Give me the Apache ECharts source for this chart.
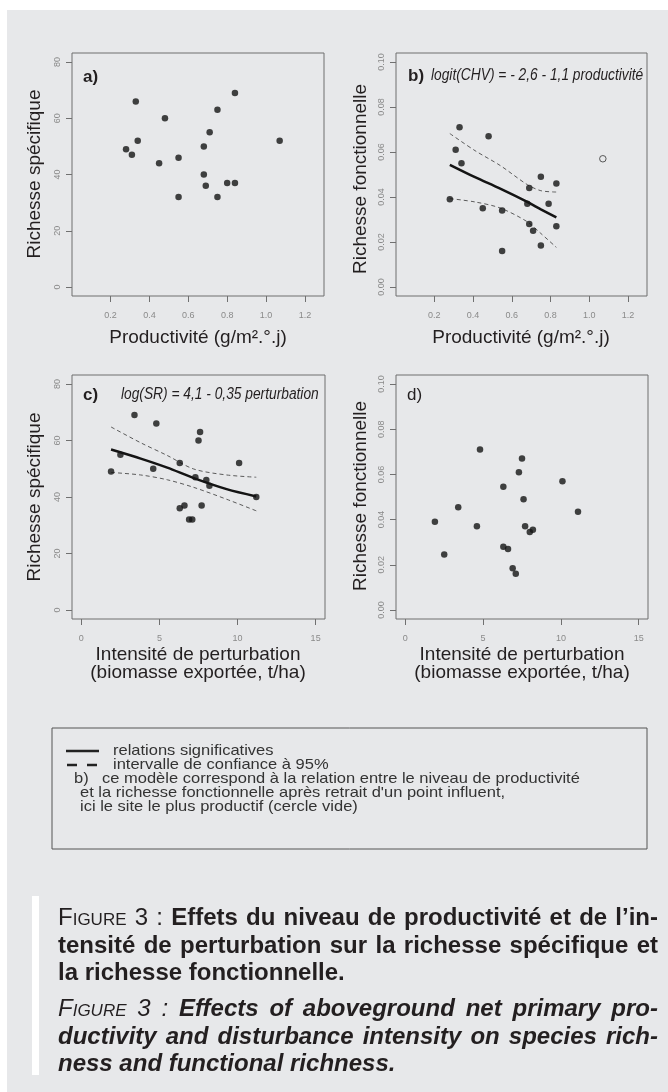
<!DOCTYPE html>
<html>
  <head>
    <meta charset="utf-8" />
    <title>Figure 3 - productivité, perturbation et richesse</title>
    <script src="https://cdn.jsdelivr.net/npm/echarts@6/dist/echarts.min.js"></script>
  </head>
  <body>
    <style>
      html,
      body {
        width: 668px;
        height: 1092px;
        margin: 0;
        padding: 0;
        background: #ffffff;
        overflow: hidden;
      }
      .sheet {
        position: absolute;
        left: 7px;
        top: 10px;
        right: 0;
        bottom: 0;
        background: #e7e8ea;
      }
      #main {
        position: absolute;
        left: 0;
        top: 0;
        width: 668px;
        height: 1092px;
      }
      .bar {
        position: absolute;
        left: 32px;
        top: 896px;
        width: 7px;
        height: 179px;
        background: #ffffff;
      }
      .caption {
        position: absolute;
        left: 58px;
        width: 600px;
        font-family: "Liberation Sans", Arial, sans-serif;
        font-size: 24px;
        line-height: 27.5px;
        color: #231f20;
      }
      .caption .j {
        text-align: justify;
        text-align-last: justify;
      }
      .caption .sc {
        font-variant: small-caps;
      }
    </style>
    <div class="sheet"></div>
    <div id="main"></div>
    <div class="bar"></div>
    <div class="caption" style="top: 903px;">
      <div class="j"><span class="sc">Figure</span> 3 : <b>Effets du niveau de productivité et de l’in-</b></div>
      <div class="j"><b>tensité de perturbation sur la richesse spécifique et</b></div>
      <div><b>la richesse fonctionnelle.</b></div>
    </div>
    <div class="caption" style="top: 994px; font-style: italic;">
      <div class="j"><span class="sc">Figure</span> 3 : <b>Effects of aboveground net primary pro-</b></div>
      <div class="j"><b>ductivity and disturbance intensity on species rich-</b></div>
      <div><b>ness and functional richness.</b></div>
    </div>
    <script type="text/javascript">

      // a) productivité / richesse spécifique
      var prodA = [0.28, 0.31, 0.33, 0.34, 0.45, 0.48, 0.55, 0.55, 0.68, 0.68, 0.69, 0.71, 0.75, 0.75, 0.80, 0.84, 0.84, 1.07];
      var srA = [49, 47, 66, 52, 44, 60, 32, 46, 50, 40, 36, 55, 32, 63, 37, 37, 69, 52];

      // b) productivité / richesse fonctionnelle, le site le plus productif à part (cercle vide)
      var prodB = [0.28, 0.31, 0.33, 0.34, 0.45, 0.48, 0.55, 0.55, 0.68, 0.69, 0.69, 0.71, 0.75, 0.75, 0.79, 0.83, 0.83];
      var frB = [0.039, 0.061, 0.071, 0.055, 0.035, 0.067, 0.016, 0.034, 0.037, 0.044, 0.028, 0.025, 0.0185, 0.049, 0.037, 0.027, 0.046];
      var prodOut = [1.07];
      var frOut = [0.057];
      var fitProdB = [0.28, 0.41, 0.54, 0.68, 0.75, 0.83];
      var fitB = [0.0543, 0.0488, 0.0437, 0.0378, 0.0345, 0.0309];
      var upB = [0.0682, 0.0606, 0.0540, 0.0455, 0.0428, 0.0422];
      var loB = [0.0393, 0.0378, 0.0351, 0.0290, 0.0238, 0.0176];

      // c) perturbation / richesse spécifique
      var pertC = [1.9, 2.5, 3.4, 4.8, 4.6, 6.3, 6.3, 6.6, 6.9, 7.1, 7.5, 7.6, 7.3, 7.7, 8.0, 8.2, 10.1, 11.2];
      var srC = [49, 55, 69, 66, 50, 52, 36, 37, 32, 32, 60, 63, 47, 37, 46, 44, 52, 40];
      var fitPertC = [1.9, 3.8, 5.5, 7.2, 9.3, 11.2];
      var fitC = [56.8, 53.6, 50.4, 46.7, 42.8, 40.2];
      var upC = [64.8, 59.2, 54.7, 49.9, 47.8, 47.0];
      var loC = [48.7, 47.8, 46.1, 43.4, 39.2, 35.1];

      // d) perturbation / richesse fonctionnelle
      var pertD = [1.9, 2.5, 3.4, 4.6, 4.8, 6.3, 6.3, 6.6, 6.9, 7.1, 7.3, 7.5, 7.6, 7.7, 8.0, 8.2, 10.1, 11.1];
      var frD = [0.039, 0.0245, 0.0455, 0.037, 0.071, 0.0545, 0.028, 0.027, 0.0185, 0.016, 0.061, 0.067, 0.049, 0.037, 0.0345, 0.0355, 0.057, 0.0435];

      // tick labels
      var prodTicks = [0.2, 0.4, 0.6, 0.8, 1.0, 1.2];
      var pertTicks = [0, 5, 10, 15];
      var srTicks = [0, 20, 40, 60, 80];
      var frTicks = [0, 0.02, 0.04, 0.06, 0.08, 0.10];

      var FONT = '"Liberation Sans", Arial, sans-serif';
      var INK = '#231f20';

      function pairs(xs, ys) {
        return xs.map(function (x, i) { return [x, ys[i]]; });
      }

      function axis(i, min, max, ticks, digits, rotate, margin) {
        return {
          type: 'value',
          gridIndex: i,
          min: min,
          max: max,
          axisLine: { show: false, onZero: false },
          splitLine: { show: false },
          axisTick: { show: true, length: 6, customValues: ticks, lineStyle: { color: '#707070', width: 1 } },
          axisLabel: {
            customValues: ticks,
            rotate: rotate,
            margin: margin,
            fontSize: 9,
            fontFamily: FONT,
            color: '#8a8a8a',
            formatter: function (v) { return v.toFixed(digits); }
          }
        };
      }

      function dots(i, xs, ys) {
        return {
          type: 'scatter', xAxisIndex: i, yAxisIndex: i, z: 5,
          data: pairs(xs, ys), symbolSize: 6.5,
          itemStyle: { color: '#141414' }
        };
      }

      function curve(i, xs, ys, dashed) {
        return {
          type: 'line', xAxisIndex: i, yAxisIndex: i, z: 3,
          data: pairs(xs, ys), showSymbol: false, smooth: 0.3,
          lineStyle: dashed ? { color: '#5a5a5a', width: 1, type: [4, 3] } : { color: '#141414', width: 2.5 }
        };
      }

      function label(x, y, text, font, extra) {
        var el = {
          type: 'text', x: x, y: y, silent: true,
          style: { text: text, font: font, fill: INK, textAlign: 'left', textVerticalAlign: 'middle' }
        };
        for (var k in extra) {
          if (k === 'style') { Object.assign(el.style, extra.style); } else { el[k] = extra[k]; }
        }
        return el;
      }

      var gridStyle = { show: true, borderColor: '#6e6e6e', borderWidth: 1, backgroundColor: 'transparent', outerBoundsMode: 'none' };

      var titleFont = '19px ' + FONT;
      var yTitle = { rotation: Math.PI / 2, style: { textAlign: 'center' } };
      var xTitle = { style: { textAlign: 'center' } };
      var eqFont = 'italic 16px ' + FONT;

      var legendFont = '15px ' + FONT;
      var wide = { scaleX: 1.1, style: { fill: '#333333' } };

      var chart = echarts.init(document.getElementById('main'));
      chart.setOption({
        backgroundColor: 'transparent',
        animation: false,
        grid: [
          Object.assign({ left: 72, top: 53, width: 252, height: 243 }, gridStyle),
          Object.assign({ left: 396, top: 53, width: 251, height: 243 }, gridStyle),
          Object.assign({ left: 72, top: 375, width: 253, height: 244 }, gridStyle),
          Object.assign({ left: 396, top: 375, width: 252, height: 244 }, gridStyle)
        ],
        xAxis: [
          axis(0, 0.002, 1.298, prodTicks, 1, 0, 15),
          axis(1, 0.002, 1.298, prodTicks, 1, 0, 15),
          axis(2, -0.6, 15.6, pertTicks, 0, 0, 15),
          axis(3, -0.6, 15.6, pertTicks, 0, 0, 15)
        ],
        yAxis: [
          axis(0, -3.2, 83.2, srTicks, 0, 90, 10),
          axis(1, -0.004, 0.104, frTicks, 2, 90, 10),
          axis(2, -3.2, 83.2, srTicks, 0, 90, 10),
          axis(3, -0.004, 0.104, frTicks, 2, 90, 10)
        ],
        series: [
          dots(0, prodA, srA),
          dots(1, prodB, frB),
          {
            type: 'scatter', xAxisIndex: 1, yAxisIndex: 1, z: 5,
            data: pairs(prodOut, frOut), symbolSize: 6.5,
            itemStyle: { color: 'rgba(0,0,0,0)', borderColor: '#333333', borderWidth: 1 }
          },
          curve(1, fitProdB, fitB, false),
          curve(1, fitProdB, upB, true),
          curve(1, fitProdB, loB, true),
          dots(2, pertC, srC),
          curve(2, fitPertC, fitC, false),
          curve(2, fitPertC, upC, true),
          curve(2, fitPertC, loC, true),
          dots(3, pertD, frD)
        ],
        graphic: [
          // axis titles
          label(35, 174, 'Richesse spécifique', titleFont, yTitle),
          label(361, 179, 'Richesse fonctionnelle', titleFont, yTitle),
          label(35, 497, 'Richesse spécifique', titleFont, yTitle),
          label(361, 496, 'Richesse fonctionnelle', titleFont, yTitle),
          label(198, 338, 'Productivité (g/m².°.j)', titleFont, xTitle),
          label(521, 338, 'Productivité (g/m².°.j)', titleFont, xTitle),
          label(198, 655, 'Intensité de perturbation', titleFont, xTitle),
          label(198, 673, '(biomasse exportée, t/ha)', titleFont, xTitle),
          label(522, 655, 'Intensité de perturbation', titleFont, xTitle),
          label(522, 673, '(biomasse exportée, t/ha)', titleFont, xTitle),
          // panel letters and fitted models
          label(83, 77, 'a)', 'bold 17px ' + FONT),
          label(408, 76, 'b)', 'bold 17px ' + FONT),
          label(431, 76, 'logit(CHV) = - 2,6 - 1,1 productivité', eqFont, { scaleX: 0.86 }),
          label(83, 395, 'c)', 'bold 17px ' + FONT),
          label(121, 395, 'log(SR) = 4,1 - 0,35 perturbation', eqFont, { scaleX: 0.86 }),
          label(407, 395, 'd)', '17px ' + FONT),
          // legend box
          {
            type: 'rect', silent: true,
            shape: { x: 52, y: 728, width: 595, height: 121 },
            style: { fill: 'none', stroke: '#555555', lineWidth: 1 }
          },
          {
            type: 'line', silent: true,
            shape: { x1: 66, y1: 751, x2: 99, y2: 751 },
            style: { stroke: '#222222', lineWidth: 2.5 }
          },
          {
            type: 'line', silent: true,
            shape: { x1: 67, y1: 765, x2: 77, y2: 765 },
            style: { stroke: '#222222', lineWidth: 2.5 }
          },
          {
            type: 'line', silent: true,
            shape: { x1: 87, y1: 765, x2: 97, y2: 765 },
            style: { stroke: '#222222', lineWidth: 2.5 }
          },
          label(113, 751, 'relations significatives', legendFont, wide),
          label(113, 765, 'intervalle de confiance à 95%', legendFont, wide),
          label(74, 779, 'b)', legendFont, wide),
          label(102, 779, 'ce modèle correspond à la relation entre le niveau de productivité', legendFont, wide),
          label(80, 793, 'et la richesse fonctionnelle après retrait d\'un point influent,', legendFont, wide),
          label(80, 807, 'ici le site le plus productif (cercle vide)', legendFont, wide)
        ]
      });
    </script>
  </body>
</html>
